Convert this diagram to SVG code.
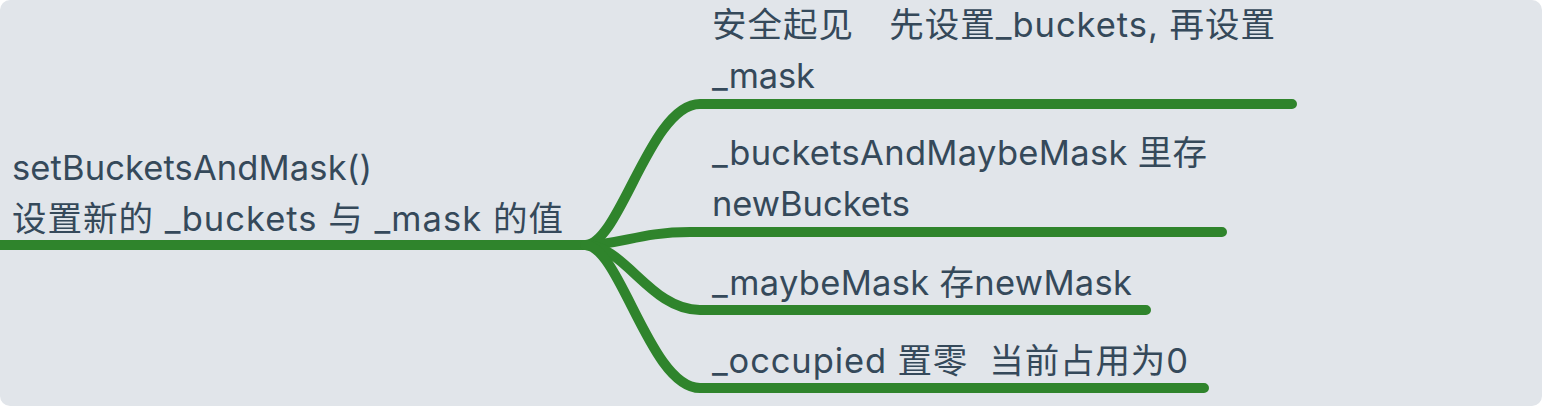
<svg xmlns="http://www.w3.org/2000/svg" width="1542" height="406" viewBox="0 0 1542 406">
  <style>
    .bg { fill: #e1e5ea; }
    .edge { fill: none; stroke: #2f842c; stroke-width: 10; stroke-linecap: round; stroke-linejoin: round; }
    .root-edge { fill: none; stroke: #2f842c; stroke-width: 10; stroke-linecap: butt; }
    .label { font-family: Inter, "Noto Sans CJK SC", sans-serif; font-size: 34.5px; fill: #35495a; white-space: pre; }
  </style>
  <rect class="bg" x="0" y="0" width="1542" height="406" rx="10" ry="10"/>
  <g id="connectors">
    <path class="root-edge" d="M0 245 H587"/>
    <path class="edge" d="M585 245 C620 245 650 104 700 104 H1292"/>
    <path class="edge" d="M585 245 C620 245 640 232 690 232 H1222"/>
    <path class="edge" d="M585 245 C625 245 650 310 700 310 H1146"/>
    <path class="edge" d="M585 245 C620 245 650 388 700 388 H1204"/>
  </g>
  <g id="node-root">
    <text class="label" x="12" y="180" textLength="360" lengthAdjust="spacing">setBucketsAndMask()</text>
    <text class="label" x="12" y="231" textLength="551" lengthAdjust="spacing">设置新的 _buckets 与 _mask 的值</text>
  </g>
  <g id="node-1">
    <text class="label" x="712" y="37" textLength="563" lengthAdjust="spacing">安全起见　先设置_buckets, 再设置</text>
    <text class="label" x="712" y="88" textLength="103" lengthAdjust="spacing">_mask</text>
  </g>
  <g id="node-2">
    <text class="label" x="712" y="165" textLength="495" lengthAdjust="spacing">_bucketsAndMaybeMask 里存</text>
    <text class="label" x="712" y="216" textLength="198" lengthAdjust="spacing">newBuckets</text>
  </g>
  <g id="node-3">
    <text class="label" x="712" y="295" textLength="420" lengthAdjust="spacing">_maybeMask 存newMask</text>
  </g>
  <g id="node-4">
    <text class="label" x="712" y="373" textLength="476" lengthAdjust="spacing" xml:space="preserve">_occupied 置零  当前占用为0</text>
  </g>
</svg>
